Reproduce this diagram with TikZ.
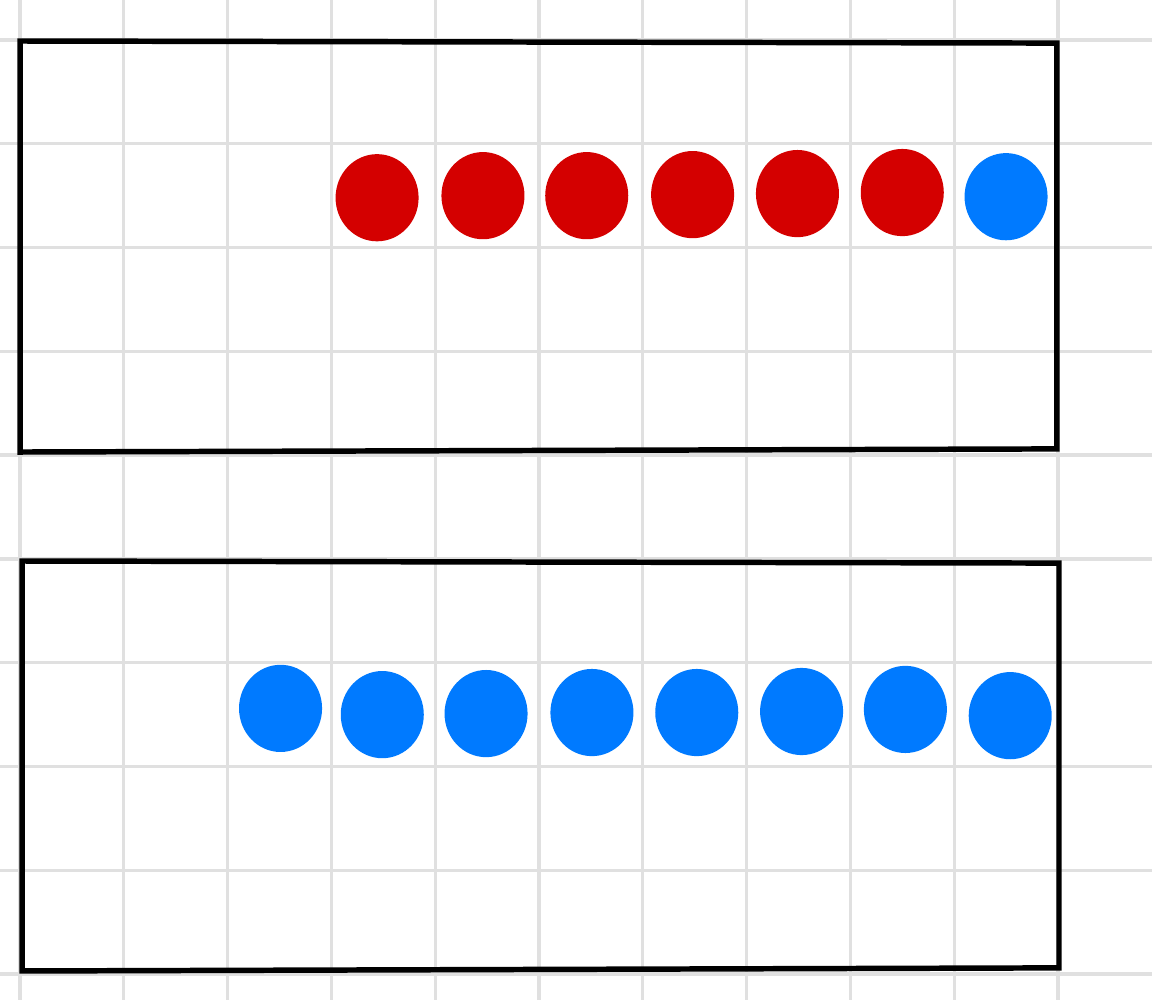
\documentclass[tikz,border=0pt]{standalone}
\usepackage{xcolor}
\definecolor{dotred}{HTML}{D40000}
\definecolor{dotblue}{HTML}{007AFF}
\definecolor{gridgray}{HTML}{E0E0E0}
\usepackage{tikz}
\usetikzlibrary{shapes.geometric}

\begin{document}
\begin{tikzpicture}[
    gridline/.style={gridgray,line width=0.9pt},
    frame/.style={black,line width=1.5pt,line join=miter},
    counter/.style={ellipse,inner sep=0pt,minimum width=0.8cm,minimum height=0.84cm},
  ]
  \useasboundingbox (-0.193,-9.249) rectangle (10.906,0.385);
  % squared paper
  \draw[gridline] (-0.193,-9.249) grid (10.906,0.385);

  % the two frames
  \draw[frame] (0,-0.01) -- (9.99,-0.03) -- (9.99,-3.94) -- (0,-3.97) -- cycle;
  \draw[frame] (0.02,-5.02) -- (10.01,-5.04) -- (10.01,-8.94) -- (0.02,-8.97) -- cycle;

  % top row: six red, one blue
  \foreach \x/\y [count=\i] in {3.44/-1.52,4.46/-1.50,5.46/-1.50,6.48/-1.49,7.49/-1.48,8.50/-1.47}
    \node[counter,fill=dotred] (red\i) at (\x,\y) {};
  \node[counter,fill=dotblue] (top blue) at (9.50,-1.51) {};

  % bottom row: eight blue
  \foreach \x/\y [count=\i] in {2.51/-6.44,3.49/-6.50,4.49/-6.49,5.51/-6.48,6.52/-6.48,7.53/-6.47,8.53/-6.45,9.54/-6.51}
    \node[counter,fill=dotblue] (blue\i) at (\x,\y) {};
\end{tikzpicture}
\end{document}
